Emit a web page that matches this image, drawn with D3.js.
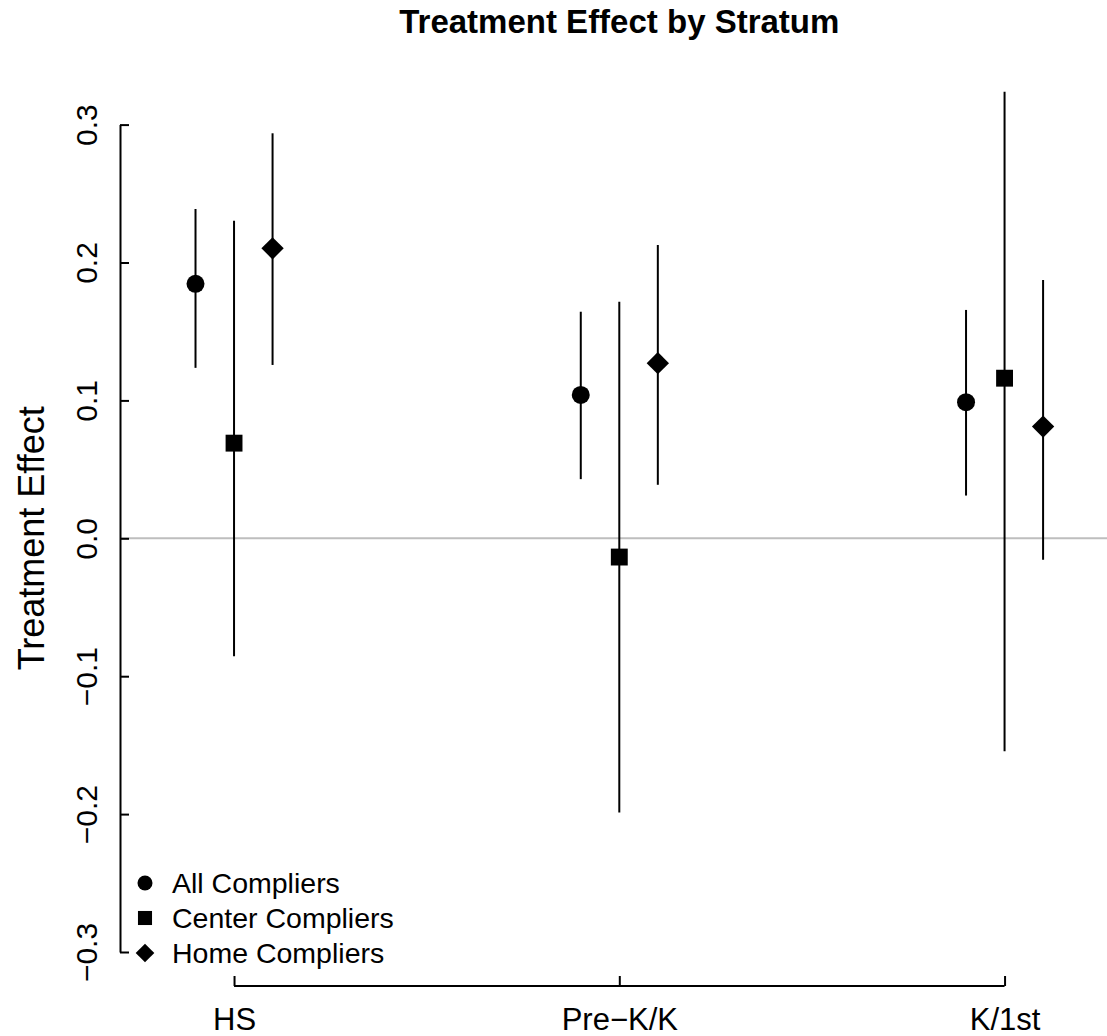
<!DOCTYPE html>
<meta charset="utf-8">
<script src="https://d3js.org/d3.v7.min.js"></script>
<style>
body { margin: 0; background: #fff; }
text { font-family: "Liberation Sans", Arial, sans-serif; fill: #000; }
</style>
<body>
<script>

var width = 1107
var height = 1036

// data
var strata = ["HS", "Pre\u2212K/K", "K/1st"]
var groups = ["All Compliers", "Center Compliers", "Home Compliers"]
var offsets = [-0.1, 0, 0.1]

var est   = [[0.1845, 0.0690, 0.2103],
             [0.1040, -0.0136, 0.1270],
             [0.0987, 0.1161, 0.0810]]
var lower = [[0.1236, -0.0856, 0.1257],
             [0.0429, -0.1989, 0.0388],
             [0.0310, -0.1545, -0.0156]]
var upper = [[0.2388, 0.2303, 0.2937],
             [0.1643, 0.1716, 0.2127],
             [0.1656, 0.3238, 0.1873]]

var yTicks = [-0.3, -0.2, -0.1, 0.0, 0.1, 0.2, 0.3]

var x = d3.scaleLinear().domain([0.704, 3.296]).range([120, 1118.6])
var y = d3.scaleLinear().domain([-0.3, 0.3]).range([952, 124.6])

var svg = d3.select("body").append("svg")
            .attr("width", width)
            .attr("height", height)

// title
svg.append("text")
    .attr("x", x(2)).attr("y", 33)
    .attr("text-anchor", "middle")
    .style("font-size", "33px")
    .style("font-weight", "bold")
    .text("Treatment Effect by Stratum")

// zero reference line
svg.append("line")
    .attr("x1", x(0.704)).attr("x2", x(3.296))
    .attr("y1", y(0)).attr("y2", y(0))
    .attr("stroke", "#bebebe").attr("stroke-width", 2)

// y axis (ticks point inward like the original)
var yAxis = svg.append("g")
    .attr("transform", "translate(120,0)")
    .call(d3.axisRight(y).tickValues(yTicks).tickSize(9).tickSizeOuter(0))
yAxis.select(".domain").attr("stroke-width", 2)
yAxis.selectAll(".tick line").attr("stroke-width", 2)
yAxis.selectAll(".tick text")
    .attr("x", null).attr("dy", null)
    .attr("transform", "translate(-23,0) rotate(-90)")
    .attr("text-anchor", "middle")
    .style("font-size", "30px")
    .text(function(d) { return d3.format(".1f")(d).replace("-", "\u2212"); })

// x axis, line only between first and last tick
var xAxis = svg.append("g")
    .attr("transform", "translate(0,986)")
    .call(d3.axisTop(x).tickValues([1, 2, 3]).tickSize(10).tickSizeOuter(0)
          .tickFormat(function(d) { return strata[d - 1]; }))
xAxis.select(".domain")
    .attr("d", "M" + x(1) + ",0H" + x(3))
    .attr("stroke-width", 2)
xAxis.selectAll(".tick line").attr("stroke-width", 2)
xAxis.selectAll(".tick text")
    .attr("y", 44).attr("dy", null)
    .style("font-size", "31px")

// axis label
svg.append("text")
    .attr("transform", "translate(44," + y(0) + ") rotate(-90)")
    .attr("text-anchor", "middle")
    .style("font-size", "36px")
    .text("Treatment Effect")

// shapes
function shape(k, s) {
  if (k == 0) return d3.symbol(d3.symbolCircle, Math.PI * s * s / 4)()
  if (k == 1) return d3.symbol(d3.symbolSquare, s * s * 0.88)()
  var h = s * 0.62
  return "M0," + (-h) + "L" + h + ",0L0," + h + "L" + (-h) + ",0Z"
}

var rows = []
strata.forEach(function(st, i) {
  groups.forEach(function(g, k) {
    rows.push({i: i, k: k, est: est[i][k], lo: lower[i][k], hi: upper[i][k]})
  })
})

var pts = svg.append("g")
pts.selectAll("line")
    .data(rows).enter().append("line")
    .attr("x1", function(d) { return x(d.i + 1 + offsets[d.k]); })
    .attr("x2", function(d) { return x(d.i + 1 + offsets[d.k]); })
    .attr("y1", function(d) { return y(d.lo); })
    .attr("y2", function(d) { return y(d.hi); })
    .attr("stroke", "#000").attr("stroke-width", 2)

pts.selectAll("path")
    .data(rows).enter().append("path")
    .attr("transform", function(d) { return "translate(" + x(d.i + 1 + offsets[d.k]) + "," + y(d.est) + ")"; })
    .attr("d", function(d) { return shape(d.k, 18); })
    .attr("fill", "#000")

// legend
var leg = svg.append("g")
leg.selectAll("path")
    .data(groups).enter().append("path")
    .attr("transform", function(d, k) { return "translate(145," + (883 + 35 * k) + ")"; })
    .attr("d", function(d, k) { return shape(k, 15); })
    .attr("fill", "#000")
leg.selectAll("text")
    .data(groups).enter().append("text")
    .attr("x", 172).attr("y", function(d, k) { return 893 + 35 * k; })
    .style("font-size", "28.5px")
    .text(function(d) { return d; })

</script>
</body>
